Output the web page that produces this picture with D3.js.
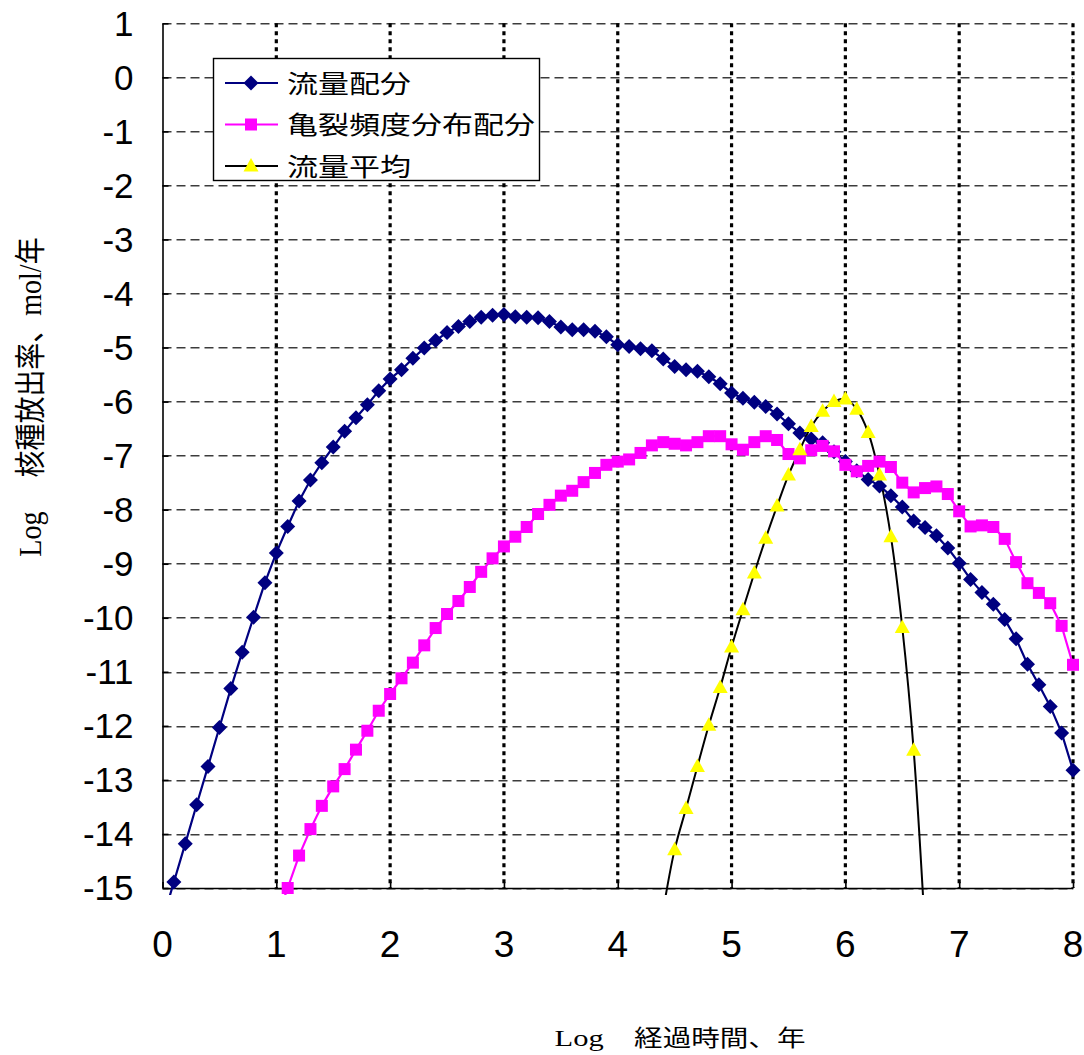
<!DOCTYPE html>
<html>
<head>
<meta charset="utf-8">
<script src="https://cdn.jsdelivr.net/npm/d3@7"></script>
<style>
  body { margin: 0; background: #fff; }
  svg { display: block; }
</style>
</head>
<body>
<div id="chart"></div>
<script>
// log time grid (Log 経過時間、年)
var logTime = [0.0, 0.1, 0.2, 0.3, 0.4, 0.5, 0.6, 0.7, 0.8, 0.9,
  1.0, 1.1, 1.2, 1.3, 1.4, 1.5, 1.6, 1.7, 1.8, 1.9,
  2.0, 2.1, 2.2, 2.3, 2.4, 2.5, 2.6, 2.7, 2.8, 2.9,
  3.0, 3.1, 3.2, 3.3, 3.4, 3.5, 3.6, 3.7, 3.8, 3.9,
  4.0, 4.1, 4.2, 4.3, 4.4, 4.5, 4.6, 4.7, 4.8, 4.9,
  5.0, 5.1, 5.2, 5.3, 5.4, 5.5, 5.6, 5.7, 5.8, 5.9,
  6.0, 6.1, 6.2, 6.3, 6.4, 6.5, 6.6, 6.7, 6.8, 6.9,
  7.0, 7.1, 7.2, 7.3, 7.4, 7.5, 7.6, 7.7, 7.8, 7.9, 8.0];

// 流量配分 (from 0.0)
var flowSplit = [-15.6, -14.89, -14.18, -13.46, -12.75, -12.03, -11.31, -10.64, -9.99, -9.35,
  -8.80, -8.31, -7.84, -7.45, -7.13, -6.84, -6.55, -6.30, -6.06, -5.80,
  -5.58, -5.41, -5.20, -5.01, -4.87, -4.72, -4.61, -4.52, -4.44, -4.40,
  -4.39, -4.43, -4.44, -4.45, -4.52, -4.62, -4.67, -4.67, -4.70, -4.80,
  -4.95, -4.98, -5.02, -5.06, -5.21, -5.35, -5.41, -5.44, -5.54, -5.67,
  -5.84, -5.94, -6.01, -6.09, -6.23, -6.41, -6.58, -6.69, -6.76, -6.93,
  -7.11, -7.28, -7.44, -7.56, -7.74, -7.95, -8.21, -8.33, -8.48, -8.71,
  -8.99, -9.29, -9.53, -9.75, -10.03, -10.39, -10.86, -11.24, -11.64, -12.13, -12.82];

// 亀裂頻度分布配分 (from 1.0)
var fractureSplit = [-15.6, -15.0, -14.40, -13.91, -13.48, -13.12, -12.80, -12.44, -12.09, -11.72,
  -11.41, -11.12, -10.83, -10.51, -10.19, -9.93, -9.69, -9.43, -9.15, -8.90,
  -8.68, -8.50, -8.32, -8.08, -7.91, -7.74, -7.65, -7.49, -7.32, -7.17,
  -7.11, -7.07, -6.95, -6.81, -6.75, -6.78, -6.81, -6.75, -6.64, -6.64,
  -6.79, -6.89, -6.75, -6.64, -6.71, -6.97, -7.05, -6.90, -6.82, -6.92,
  -7.17, -7.29, -7.19, -7.11, -7.21, -7.50, -7.68, -7.60, -7.57, -7.71,
  -8.03, -8.31, -8.29, -8.32, -8.54, -8.97, -9.36, -9.54, -9.73, -10.15, -10.87];

// 流量平均 (from 4.4)
var flowMean = [-15.4, -14.29, -13.53, -12.75, -11.99, -11.29, -10.54, -9.85, -9.17, -8.53,
  -7.93, -7.36, -6.89, -6.46, -6.18, -6.00, -5.95, -6.14, -6.57, -7.36,
  -8.50, -10.18, -12.45, -15.8];

var seriesNames = ["流量配分", "亀裂頻度分布配分", "流量平均"];
var xTicks = [0, 1, 2, 3, 4, 5, 6, 7, 8];
var yTicks = [1, 0, -1, -2, -3, -4, -5, -6, -7, -8, -9, -10, -11, -12, -13, -14, -15];

var svgWidth = 1084;
var svgHeight = 1055;

var margin = {
  top: 23.3,
  right: 11,
  bottom: 167,
  left: 162.5
};

var width = svgWidth - margin.left - margin.right;
var height = svgHeight - margin.top - margin.bottom;

var svg = d3.select("#chart")
  .append("svg")
  .attr("width", svgWidth)
  .attr("height", svgHeight);

var chartGroup = svg.append("g")
  .attr("transform", `translate(${margin.left}, ${margin.top})`);

//scales
var xScale = d3.scaleLinear().domain([0, 8]).range([0, width]);
var yScale = d3.scaleLinear().domain([-15, 1]).range([height, 0]);

// build point lists
var blueData = flowSplit.map((v, i) => ({x: logTime[i], y: v}));
var pinkData = fractureSplit.map((v, i) => ({x: logTime[i + 10], y: v}));
var yellowData = flowMean.map((v, i) => ({x: logTime[i + 44], y: v}));

// horizontal dashed grid
chartGroup.append("g")
  .selectAll("line")
  .data(yTicks)
  .enter()
  .append("line")
  .attr("x1", 0)
  .attr("x2", width)
  .attr("y1", d => Math.round(yScale(d)) + 0.5)
  .attr("y2", d => Math.round(yScale(d)) + 0.5)
  .attr("stroke", "#3c3c3c")
  .attr("stroke-width", 1.5)
  .attr("stroke-dasharray", "9,5");

// vertical dotted grid
chartGroup.append("g")
  .selectAll("line")
  .data(xTicks.slice(1))
  .enter()
  .append("line")
  .attr("x1", d => xScale(d))
  .attr("x2", d => xScale(d))
  .attr("y1", 0)
  .attr("y2", height)
  .attr("stroke", "#000")
  .attr("stroke-width", 3.2)
  .attr("stroke-dasharray", "4,4");

//axes
var bottomAxis = d3.axisBottom(xScale).tickValues(xTicks).tickSizeInner(-6).tickSizeOuter(0).tickFormat("");
var leftAxis = d3.axisLeft(yScale).tickValues(yTicks).tickSizeInner(-6).tickSizeOuter(0).tickFormat("");

chartGroup.append("g")
  .attr("transform", `translate(0, ${height})`)
  .call(bottomAxis)
  .call(g => g.selectAll("line, path").attr("stroke", "#000").attr("stroke-width", 1.6));

chartGroup.append("g")
  .call(leftAxis)
  .call(g => g.selectAll("line, path").attr("stroke", "#000").attr("stroke-width", 1.6));

// tick labels
chartGroup.append("g")
  .selectAll("text")
  .data(yTicks)
  .enter()
  .append("text")
  .attr("x", -29)
  .attr("y", d => yScale(d) + 12.5)
  .attr("text-anchor", "end")
  .attr("font-family", "Liberation Sans, Arial, sans-serif")
  .attr("font-size", 35)
  .text(d => d);

chartGroup.append("g")
  .selectAll("text")
  .data(xTicks)
  .enter()
  .append("text")
  .attr("x", d => xScale(d))
  .attr("y", height + 69)
  .attr("text-anchor", "middle")
  .attr("font-family", "Liberation Sans, Arial, sans-serif")
  .attr("font-size", 37)
  .text(d => d);

// clip for lines (slightly below the axis like the original)
svg.append("defs").append("clipPath")
  .attr("id", "plotClip")
  .append("rect")
  .attr("x", -12)
  .attr("y", 0)
  .attr("width", width + 24)
  .attr("height", height + 7);

var lineGen = d3.line().x(d => xScale(d.x)).y(d => yScale(d.y));
var smoothGen = d3.line().x(d => xScale(d.x)).y(d => yScale(d.y)).curve(d3.curveCatmullRom.alpha(0.5));

var lines = chartGroup.append("g").attr("clip-path", "url(#plotClip)");

lines.append("path")
  .datum(blueData)
  .attr("d", lineGen)
  .attr("fill", "none")
  .attr("stroke", "#000080")
  .attr("stroke-width", 2.2);

lines.append("path")
  .datum(pinkData)
  .attr("d", lineGen)
  .attr("fill", "none")
  .attr("stroke", "#FF00FF")
  .attr("stroke-width", 2.2);

lines.append("path")
  .datum(yellowData)
  .attr("d", smoothGen)
  .attr("fill", "none")
  .attr("stroke", "#000")
  .attr("stroke-width", 2);

// markers (only points inside the axis range)
var inRange = d => d.y >= -15.05;
var diamond = "M0,-7.5L7.5,0L0,7.5L-7.5,0Z";
var triangle = "M0,-8L7.5,5.5L-7.5,5.5Z";

chartGroup.append("g")
  .selectAll("path")
  .data(blueData.filter(inRange))
  .enter()
  .append("path")
  .attr("transform", d => `translate(${xScale(d.x)}, ${yScale(d.y)})`)
  .attr("d", diamond)
  .attr("fill", "#000080");

chartGroup.append("g")
  .selectAll("rect")
  .data(pinkData.filter(inRange))
  .enter()
  .append("rect")
  .attr("x", d => xScale(d.x) - 6)
  .attr("y", d => yScale(d.y) - 6)
  .attr("width", 12)
  .attr("height", 12)
  .attr("fill", "#FF00FF");

chartGroup.append("g")
  .selectAll("path")
  .data(yellowData.filter(inRange))
  .enter()
  .append("path")
  .attr("transform", d => `translate(${xScale(d.x)}, ${yScale(d.y)})`)
  .attr("d", triangle)
  .attr("fill", "#FFFF00");

// legend
var legend = svg.append("g");

legend.append("rect")
  .attr("x", 213.5)
  .attr("y", 58.5)
  .attr("width", 326)
  .attr("height", 122)
  .attr("fill", "#fff")
  .attr("stroke", "#000")
  .attr("stroke-width", 1.4);

var legendY = [83, 124.5, 166];
var legendColors = ["#000080", "#FF00FF", "#000"];

seriesNames.forEach(function(name, i) {
  var ly = legendY[i];
  legend.append("line")
    .attr("x1", 225).attr("x2", 278)
    .attr("y1", ly).attr("y2", ly)
    .attr("stroke", legendColors[i])
    .attr("stroke-width", 2);
  if (i == 0) {
    legend.append("path")
      .attr("transform", `translate(251, ${ly})`)
      .attr("d", diamond)
      .attr("fill", "#000080");
  } else if (i == 1) {
    legend.append("rect")
      .attr("x", 245).attr("y", ly - 6)
      .attr("width", 12).attr("height", 12)
      .attr("fill", "#FF00FF");
  } else {
    legend.append("path")
      .attr("transform", `translate(251, ${ly})`)
      .attr("d", triangle)
      .attr("fill", "#FFFF00");
  }
  legend.append("text")
    .attr("transform", `translate(287, ${ly + 9.5}) scale(1.24, 1)`)
    .attr("font-family", "Noto Sans CJK JP, sans-serif")
    .attr("font-size", 25)
    .attr("fill", "#000")
    .text(name);
});

// axis titles
var xTitle = svg.append("text")
  .attr("transform", "translate(680, 1046) scale(1.27, 1)")
  .attr("text-anchor", "middle");
xTitle.append("tspan")
  .attr("font-family", "Liberation Serif, serif")
  .attr("font-size", 24)
  .text("Log");
xTitle.append("tspan")
  .attr("dx", 24)
  .attr("font-family", "Noto Sans CJK JP, sans-serif")
  .attr("font-size", 22.5)
  .text("経過時間、年");

var yTitle = svg.append("text")
  .attr("transform", "translate(41, 397) rotate(-90) scale(1, 1.15)")
  .attr("text-anchor", "middle");
yTitle.append("tspan")
  .attr("font-family", "Liberation Serif, serif")
  .attr("font-size", 28)
  .text("Log");
yTitle.append("tspan")
  .attr("dx", 34)
  .attr("font-family", "Noto Sans CJK JP, sans-serif")
  .attr("font-size", 27)
  .text("核種放出率、");
yTitle.append("tspan")
  .attr("font-family", "Liberation Serif, serif")
  .attr("font-size", 28)
  .text("mol/");
yTitle.append("tspan")
  .attr("font-family", "Noto Sans CJK JP, sans-serif")
  .attr("font-size", 27)
  .text("年");
</script>
</body>
</html>
